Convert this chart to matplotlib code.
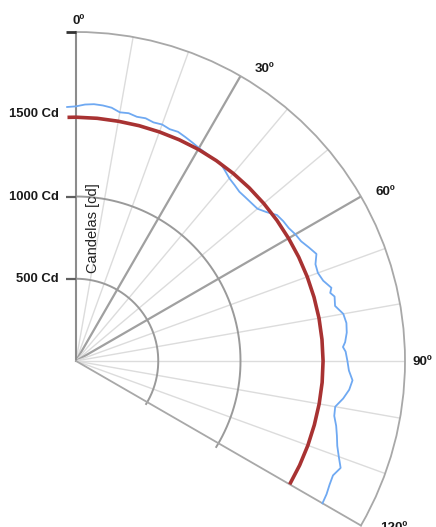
import numpy as np
import matplotlib
matplotlib.use("Agg")
import matplotlib.pyplot as plt

plt.rcParams["font.family"] = ["Liberation Sans", "DejaVu Sans"]

# Measured luminous intensity (Cd) versus angle (deg)
measured_angles = [-2, 0, 2, 4, 6, 8, 10, 12, 14, 16, 18, 20, 22, 24, 26, 28, 30,
                   32, 34, 36, 38, 40, 42, 44, 46, 48, 50, 52, 54, 56, 58, 60,
                   62, 64, 66, 68, 70, 72, 74, 75, 76, 78, 80, 82, 84, 86, 87,
                   88, 90, 92, 94, 96, 98, 100, 102, 104, 106, 108, 110, 112,
                   114, 116, 118, 120]
measured_cd = [1545, 1548, 1560, 1565, 1562, 1555, 1535, 1540, 1530, 1535, 1525,
               1530, 1520, 1525, 1515, 1505, 1495, 1490, 1485, 1490, 1470, 1450,
               1440, 1430, 1432, 1435, 1440, 1470, 1510, 1520, 1525, 1540, 1550,
               1575, 1600, 1570, 1565, 1580, 1615, 1600, 1620, 1610, 1650, 1660,
               1655, 1640, 1625, 1640, 1650, 1660, 1685, 1670, 1640, 1600, 1605,
               1630, 1650, 1670, 1700, 1735, 1710, 1715, 1725, 1730]

# Reference (simulated) intensity curve
reference_angles = [-2, 0, 5, 10, 15, 20, 25, 30, 35, 40, 45, 50, 55, 60, 65, 70,
                    75, 80, 85, 90, 95, 100, 105, 110, 115, 120]
reference_cd = [1482, 1482, 1481, 1480, 1481, 1482, 1484, 1486, 1487, 1488, 1489,
                1490, 1491, 1492, 1494, 1496, 1498, 1500, 1501, 1502, 1502, 1501,
                1500, 1500, 1500, 1500]

radial_ticks = [500, 1000, 1500]
radial_labels = ["500 Cd", "1000 Cd", "1500 Cd"]
angle_ticks = [0, 30, 60, 90, 120]
angle_labels = ["0º", "30º", "60º", "90º", "120º"]
r_max = 2000

W, H, DPI = 436, 527, 100
fig = plt.figure(figsize=(W / DPI, H / DPI), dpi=DPI)
# pole position and outer radius in pixels; the 0-120 deg wedge is centred
# horizontally inside a square axes box of side 1.5 R
cx, cy, R = 76, 361, 329
side = 1.5 * R
left = cx - 0.25 * R
top = cy - R
ax = fig.add_axes([left / W, (H - top - side) / H, side / W, side / H],
                  projection="polar")
ax.set_theta_zero_location("N")
ax.set_theta_direction(-1)
ax.set_thetamin(0)
ax.set_thetamax(120)
ax.set_rlim(0, r_max)
ax.grid(False)
ax.set_xticks([])
ax.set_yticks([])
ax.patch.set_alpha(0)

for name, sp in ax.spines.items():
    sp.set_color("#a8a8a8")
    sp.set_linewidth(1.3)
ax.spines["inner"].set_visible(False)
ax.spines["start"].set_color("#8c8c8c")
ax.spines["start"].set_linewidth(1.5)

# spokes every 10 degrees
for a in range(10, 120, 10):
    major = a in (30, 60)
    ax.plot([np.radians(a)] * 2, [0, r_max],
            color="#a0a0a0" if major else "#dcdcdc",
            lw=1.6 if major else 1.0, zorder=1)

# intensity rings
ring_theta = np.radians(np.linspace(0, 121.5, 200))
for r in radial_ticks[:2]:
    ax.plot(ring_theta, np.full_like(ring_theta, r), color="#9a9a9a",
            lw=1.4, zorder=1, clip_on=False)

# tick marks left of the vertical axis
tick_marker = [(-1, 0), (0, 0)]
ax.plot(np.zeros(2), radial_ticks[:2], ls="none", marker=tick_marker, ms=14,
        mew=1.6, color="#606060", clip_on=False, zorder=3)
ax.plot([0], [r_max], ls="none", marker=tick_marker, ms=14, mew=2,
        color="#333333", clip_on=False, zorder=3)

ax.plot(np.radians(measured_angles), measured_cd, color="#6fa9f2", lw=1.3,
        clip_on=False, zorder=4)
ax.plot(np.radians(reference_angles), reference_cd, color="#a83232", lw=2.6,
        clip_on=False, zorder=5, solid_capstyle="butt")

for r, lab in zip(radial_ticks, radial_labels):
    ax.annotate(lab, xy=(0, r), xytext=(-17, 0), textcoords="offset pixels",
                ha="right", va="center", fontsize=9.4, fontweight="bold",
                color="#1a1a1a", annotation_clip=False)

label_offsets = {0: (-4, -1), 30: (8, -4), 60: (4, -2), 90: (-5, -1), 120: (9, 4)}
for a, lab in zip(angle_ticks, angle_labels):
    dx, dy = label_offsets[a]
    ax.annotate(lab, xy=(np.radians(a), 2075), xytext=(dx, dy),
                textcoords="offset pixels", ha="left", va="center",
                fontsize=9.6, fontweight="bold", color="#1a1a1a",
                annotation_clip=False)

fig.text(93 / W, 1 - 228 / H, "Candelas [cd]", rotation=90, ha="center",
         va="center", fontsize=10.5, color="#222222")

fig.savefig("out.png", dpi=DPI)
